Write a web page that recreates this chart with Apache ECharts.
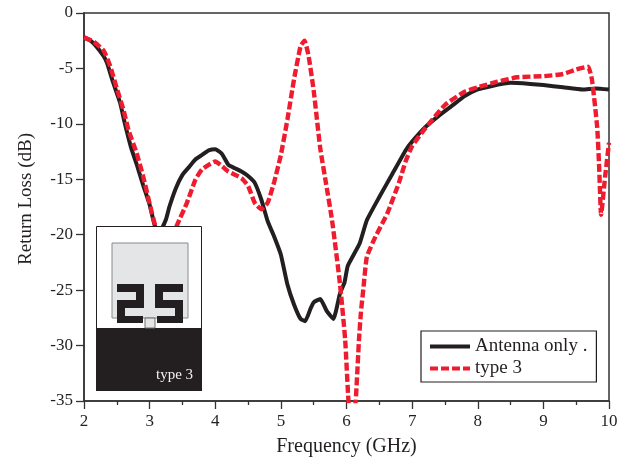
<!DOCTYPE html>
<html>
<head>
<meta charset="utf-8">
<style>html,body{margin:0;padding:0;background:#fff}#main{width:633px;height:464px}</style>
<script src="https://cdn.jsdelivr.net/npm/echarts@6/dist/echarts.min.js"></script>
</head>
<body>
<div id="main"></div>
<script>
var antennaOnly = [
  [2, -2.2], [2.1, -2.5], [2.2, -3.1], [2.3, -3.9], [2.35, -4.5], [2.44, -6.2], [2.55, -8.1], [2.62, -9.9], [2.72, -12.2],
  [2.8, -13.6], [2.9, -15.5], [3, -17.3], [3.08, -19.2], [3.15, -19.8], [3.25, -18.6], [3.3, -17.5],
  [3.4, -15.8], [3.5, -14.6], [3.6, -13.9], [3.7, -13.2], [3.8, -12.8], [3.9, -12.4], [4, -12.3],
  [4.1, -12.7], [4.2, -13.7], [4.3, -14], [4.4, -14.3], [4.5, -14.7], [4.6, -15.3], [4.7, -16.8],
  [4.8, -18.8], [4.9, -20.2], [5, -21.8], [5.1, -24.5], [5.2, -26.3], [5.3, -27.6], [5.37, -27.8],
  [5.45, -26.7], [5.5, -26.1], [5.6, -25.8], [5.7, -26.9], [5.8, -27.6], [5.9, -25.3], [5.97, -24.3],
  [6.02, -22.8], [6.2, -20.8], [6.31, -18.7], [6.5, -16.6], [6.7, -14.5], [6.9, -12.4], [7, -11.6],
  [7.2, -10.3], [7.4, -9.3], [7.6, -8.4], [7.8, -7.5], [8, -6.9], [8.2, -6.6], [8.5, -6.3], [8.8, -6.4],
  [9, -6.5], [9.3, -6.7], [9.6, -6.9], [9.8, -6.8], [10, -6.9]
];
var type3 = [
  [2, -2.2], [2.15, -2.6], [2.3, -3.4], [2.4, -4.8], [2.5, -6.8], [2.6, -8.7], [2.68, -10.6], [2.8, -12.6],
  [2.9, -14.7], [3, -17.2], [3.1, -19.5], [3.2, -21], [3.3, -20.8], [3.42, -19.1], [3.57, -17.1],
  [3.7, -15], [3.8, -14.1], [3.9, -13.7], [4, -13.4], [4.1, -13.8], [4.2, -14.3], [4.4, -14.9],
  [4.5, -15.6], [4.6, -17.1], [4.7, -17.7], [4.8, -17.1], [4.9, -15.2], [5, -12.8], [5.1, -9.6],
  [5.2, -6], [5.3, -3], [5.36, -2.5], [5.42, -3.8], [5.5, -7], [5.6, -12.2], [5.7, -15.8], [5.78, -18.7],
  [5.9, -24.4], [5.98, -29.5], [6.03, -35], [6.08, -38], [6.14, -35], [6.19, -29.5], [6.22, -27],
  [6.26, -24.7], [6.31, -22], [6.44, -20.2], [6.62, -18.1], [6.8, -15.3], [6.9, -13.4], [7, -12],
  [7.2, -10.4], [7.5, -8.3], [7.8, -7.1], [8, -6.7], [8.3, -6.2], [8.6, -5.8], [9, -5.7], [9.3, -5.5],
  [9.5, -5.1], [9.68, -4.85], [9.74, -6], [9.82, -10.3], [9.85, -13.9], [9.88, -18.2], [9.94, -14.8], [10, -11.7]
];
var seriesNames = ['Antenna only .', 'type 3'];
var fontFamily = '"Liberation Serif", "Times New Roman", serif';
var ink = '#231f20';
var red = '#ee1c2e';

var myChart = echarts.init(document.getElementById('main'));

function block(x, y, width, height, fill, stroke) {
  return {
    type: 'rect',
    shape: { x: x, y: y, width: width, height: height },
    style: { fill: fill, stroke: stroke || null, lineWidth: stroke ? 1 : 0 },
    z: 100
  };
}

var option = {
  animation: false,
  backgroundColor: '#fff',
  textStyle: { fontFamily: fontFamily },
  grid: {
    left: 84, top: 13, width: 525, height: 388,
    outerBoundsMode: 'none',
    show: true, borderColor: '#333', borderWidth: 1.5, backgroundColor: 'transparent'
  },
  legend: {
    orient: 'vertical',
    left: 421, top: 331,
    padding: [6, 9, 4, 7],
    itemGap: 3,
    itemWidth: 40, itemHeight: 18,
    backgroundColor: '#fff',
    borderColor: ink, borderWidth: 1.2,
    itemStyle: { opacity: 0 },
    lineStyle: { width: 4 },
    textStyle: { fontFamily: fontFamily, fontSize: 19, color: ink },
    data: seriesNames,
    selectedMode: false
  },
  xAxis: {
    type: 'value', min: 2, max: 10, interval: 1,
    name: 'Frequency (GHz)', nameLocation: 'middle', nameGap: 36,
    nameTextStyle: { fontFamily: fontFamily, fontSize: 20, color: ink },
    axisLine: { onZero: false, lineStyle: { color: '#333', width: 1.5 } },
    axisTick: { show: true, length: 8, lineStyle: { color: '#333', width: 1.3 } },
    minorTick: { show: true, splitNumber: 2, length: 4, lineStyle: { color: '#333', width: 1.3 } },
    axisLabel: { fontFamily: fontFamily, fontSize: 17, color: ink, margin: 12 },
    splitLine: { show: false }
  },
  yAxis: {
    type: 'value', min: -35, max: 0, interval: 5,
    name: 'Return Loss (dB)', nameLocation: 'middle', nameGap: 48,
    nameTextStyle: { fontFamily: fontFamily, fontSize: 19, color: ink, padding: [0, 0, 0, 16] },
    axisLine: { onZero: false, lineStyle: { color: '#333', width: 1.5 } },
    axisTick: { show: true, length: 8, lineStyle: { color: '#333', width: 1.3 } },
    axisLabel: {
      fontFamily: fontFamily, fontSize: 17, color: ink, margin: 11,
      formatter: function (v) { return String(v); }
    },
    splitLine: { show: false }
  },
  series: [
    {
      name: seriesNames[0], type: 'line', data: antennaOnly, symbol: 'none',
      smooth: 0.15, clip: true, z: 3,
      itemStyle: { color: ink },
      lineStyle: { color: ink, width: 4 }
    },
    {
      name: seriesNames[1], type: 'line', data: type3, symbol: 'none',
      smooth: 0.15, clip: true, z: 4,
      itemStyle: { color: red },
      lineStyle: { color: red, width: 4.4, type: [8, 3] }
    }
  ],
  graphic: [
    // inset antenna sketch
    block(96.5, 226.5, 105, 164, '#fff', ink),
    block(96, 328, 106, 63, ink),
    block(112, 243, 76, 75, '#e4e5e7', '#8a8a8a'),
    block(145, 318, 10, 10, '#e4e5e7', '#6f6f6f'),
    block(117, 284, 27, 8, ink), block(136, 284, 8, 24, ink), block(117, 300, 27, 8, ink),
    block(117, 300, 8, 23, ink), block(117, 316, 26, 7, ink),
    block(155, 284, 28, 8, ink), block(155, 284, 8, 24, ink), block(155, 300, 28, 8, ink),
    block(175, 300, 8, 23, ink), block(157, 316, 26, 7, ink),
    {
      type: 'text', x: 156, y: 368, z: 101,
      style: { text: 'type 3', fill: '#f1f1f1', font: '15px ' + fontFamily }
    }
  ]
};

myChart.setOption(option);
</script>
</body>
</html>
